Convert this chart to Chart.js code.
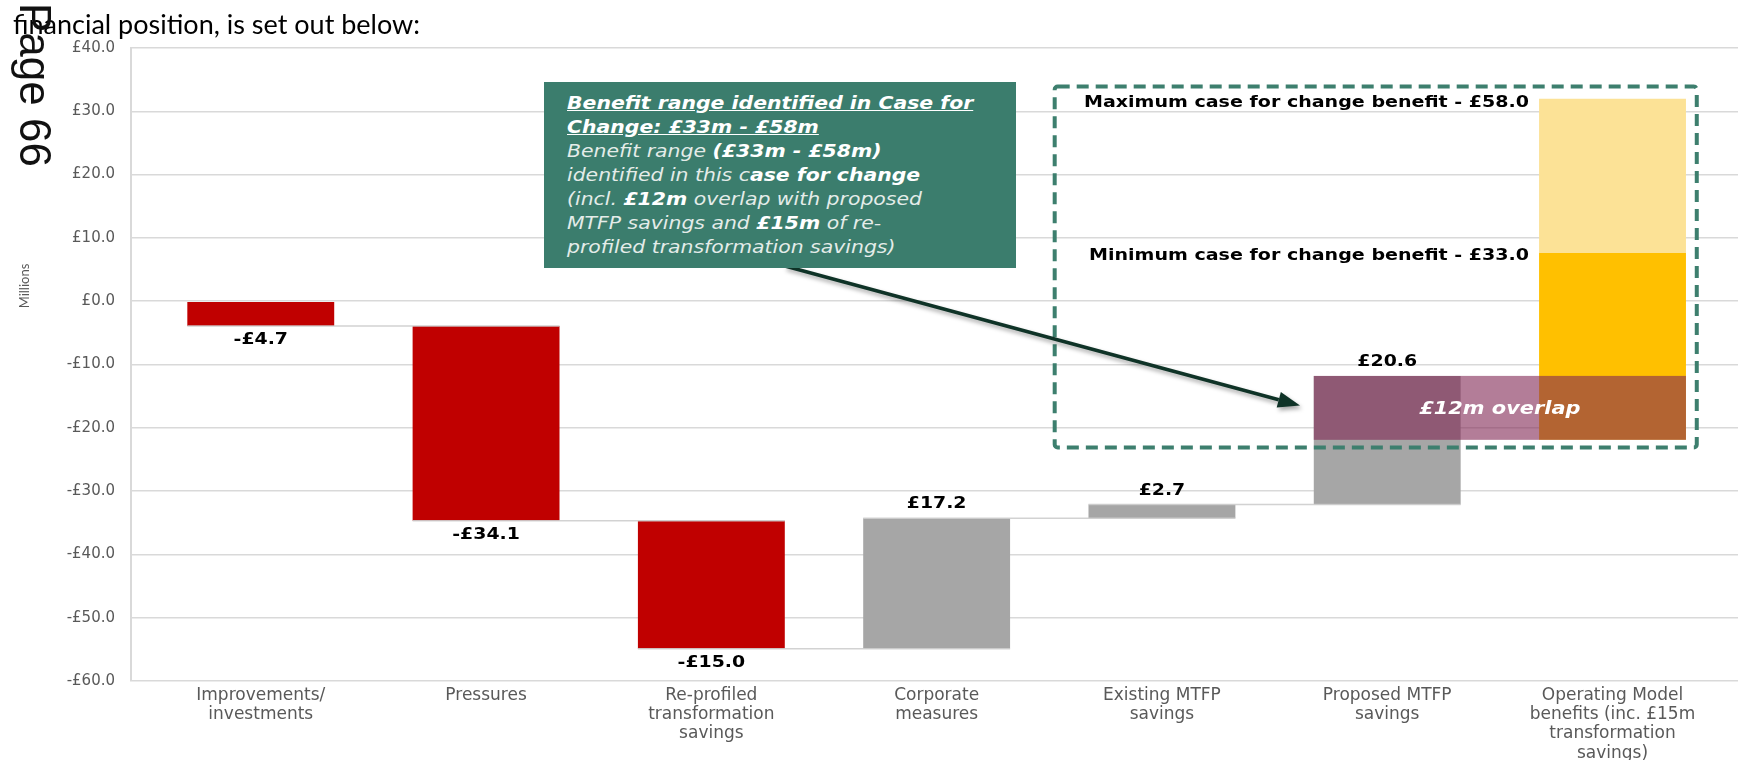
<!DOCTYPE html>
<html lang="en">
<head>
  <meta charset="UTF-8" />
  <title>Case for change - financial position</title>
  <script src="https://cdn.jsdelivr.net/npm/chart.js"></script>
  <style>
    html, body { margin: 0; padding: 0; background: #fff; overflow: hidden; }
    #wrap { position: relative; width: 1738px; height: 760px; overflow: hidden; }
    #chart { position: absolute; left: 0; top: 0; }
    .intro {
      position: absolute; left: 13px; top: 10px;
      font: 27px/27px Lato, sans-serif; color: #000; white-space: nowrap;
    }
    .page-no {
      position: absolute; left: 57px; top: 3px;
      font: 44px/44px 'Liberation Sans', Arial, sans-serif; color: #111;
      transform-origin: 0 0; transform: rotate(90deg); white-space: nowrap;
    }
    .units {
      position: absolute; left: -6px; top: 279px; width: 60px; height: 14px;
      font: 13px/14px Lato, sans-serif; color: #595959; text-align: center;
      transform: rotate(-90deg);
    }
    .callout {
      position: absolute; left: 544px; top: 82px; width: 472px; height: 186px;
      background: #3B7D6D;
    }
    .callout .txt {
      position: absolute; left: 23px; top: 9px;
      font: italic 17px/24px 'DejaVu Sans', sans-serif; color: #E4ECE9;
      white-space: nowrap; transform: scaleX(1.2); transform-origin: 0 0;
    }
    .callout b { color: #fff; }
    .callout .hd { font-weight: bold; color: #fff; text-decoration: underline; }
  </style>
</head>
<body>
  <div id="wrap">
    <canvas id="chart" width="1738" height="760"></canvas>
    <div class="intro">financial position, is set out below:</div>
    <div class="page-no">Page 66</div>
    <div class="units">Millions</div>
    <div class="callout">
      <div class="txt">
        <span class="hd">Benefit range identified in Case for</span><br>
        <span class="hd">Change: £33m - £58m</span><br>
        Benefit range <b>(£33m - £58m)</b><br>
        identified in this c<b>ase for change</b><br>
        (incl. <b>£12m</b> overlap with proposed<br>
        MTFP savings and <b>£15m</b> of re-<br>
        profiled transformation savings)
      </div>
    </div>
  </div>

  <script>
    // categories (multi-line axis labels)
    const categories = [
      ['Improvements/', 'investments'],
      ['Pressures'],
      ['Re-profiled', 'transformation', 'savings'],
      ['Corporate', 'measures'],
      ['Existing MTFP', 'savings'],
      ['Proposed MTFP', 'savings'],
      ['Operating Model', 'benefits (inc. £15m', 'transformation', 'savings)']
    ];

    // waterfall steps, £m (start and end of each floating bar, as drawn)
    const stepStart = [0, -3.9, -34.7, -54.9, -34.3, -32.1];
    const stepEnd = [-3.9, -34.7, -54.9, -34.3, -32.1, -11.8];
    const stepLabels = ['-£4.7', '-£34.1', '-£15.0', '£17.2', '£2.7', '£20.6'];

    // operating model benefits (last category)
    const minBenefit = [-21.9, 7.6];
    const maxBenefit = [7.6, 32.0];
    const overlapRange = [-21.9, -11.8];
    const benefitLabels = ['Minimum case for change benefit - £33.0', 'Maximum case for change benefit - £58.0'];
    const overlapLabel = '£12m overlap';

    const yTickValues = [40, 30, 20, 10, 0, -10, -20, -30, -40, -50, -60];

    const RED = '#C00000';
    const GREY = '#A6A6A6';

    function stretchedText(ctx, text, x, y, align, font, color, sx) {
      ctx.save();
      ctx.translate(x, y);
      ctx.scale(sx, 1);
      ctx.font = font;
      ctx.fillStyle = color;
      ctx.textAlign = align;
      ctx.textBaseline = 'middle';
      ctx.fillText(text, 0, 0);
      ctx.restore();
    }

    const annotations = {
      id: 'annotations',
      afterDatasetsDraw(chart) {
        const { ctx, scales: { x, y } } = chart;
        const steps = chart.getDatasetMeta(0).data;
        const minBar = chart.getDatasetMeta(1).data[0];
        const maxBar = chart.getDatasetMeta(2).data[0];
        const left = el => el.x - el.width / 2;
        const right = el => el.x + el.width / 2;

        ctx.save();

        // connector lines between steps
        ctx.strokeStyle = 'rgba(205,205,205,0.9)';
        ctx.lineWidth = 1.5;
        for (let i = 0; i < steps.length - 1; i++) {
          const yy = y.getPixelForValue(stepEnd[i]);
          ctx.beginPath();
          ctx.moveTo(left(steps[i]), yy);
          ctx.lineTo(right(steps[i + 1]), yy);
          ctx.stroke();
        }

        // overlap band across proposed MTFP and operating model
        const last = steps[steps.length - 1];
        const bandTop = y.getPixelForValue(overlapRange[1]);
        const bandBot = y.getPixelForValue(overlapRange[0]);
        ctx.fillStyle = 'rgba(128,38,84,0.6)';
        ctx.fillRect(left(last), bandTop, right(minBar) - left(last), bandBot - bandTop);
        stretchedText(ctx, overlapLabel, (left(last) + right(minBar)) / 2, (bandTop + bandBot) / 2 + 1,
          'center', 'italic bold 18px "DejaVu Sans"', '#fff', 1.16);

        // value labels
        steps.forEach((el, i) => {
          const top = Math.min(el.y, el.base), bot = Math.max(el.y, el.base);
          const yy = stepEnd[i] < stepStart[i] ? bot + 14 : top - 14;
          stretchedText(ctx, stepLabels[i], el.x, yy, 'center', 'bold 16px "DejaVu Sans"', '#000', 1.18);
        });

        // minimum / maximum case labels
        stretchedText(ctx, benefitLabels[0], left(minBar) - 10, y.getPixelForValue(minBenefit[1]) + 3,
          'right', 'bold 15px "DejaVu Sans"', '#000', 1.27);
        stretchedText(ctx, benefitLabels[1], left(maxBar) - 10, y.getPixelForValue(maxBenefit[1]) + 4,
          'right', 'bold 15px "DejaVu Sans"', '#000', 1.27);

        // dashed frame round the benefit range
        ctx.setLineDash([12, 7]);
        ctx.lineWidth = 4;
        ctx.strokeStyle = '#3D7F6E';
        const fx0 = x.getPixelForValue(3.524), fx1 = x.getPixelForValue(6.374);
        const fy0 = y.getPixelForValue(33.9), fy1 = y.getPixelForValue(-23.1);
        ctx.beginPath();
        ctx.roundRect(fx0, fy0, fx1 - fx0, fy1 - fy0, 3);
        ctx.stroke();
        ctx.setLineDash([]);

        // arrow from the callout box to the overlap
        const ax0 = 785, ay0 = 266, ax1 = 1300, ay1 = 405.5;
        const ang = Math.atan2(ay1 - ay0, ax1 - ax0);
        const head = 22, half = 8;
        const bx = ax1 - head * Math.cos(ang), by = ay1 - head * Math.sin(ang);
        ctx.shadowColor = 'rgba(0,0,0,0.35)';
        ctx.shadowBlur = 4;
        ctx.shadowOffsetX = 2;
        ctx.shadowOffsetY = 3;
        ctx.strokeStyle = '#0F3327';
        ctx.fillStyle = '#0F3327';
        ctx.lineWidth = 3.5;
        ctx.beginPath();
        ctx.moveTo(ax0, ay0);
        ctx.lineTo(bx, by);
        ctx.stroke();
        ctx.beginPath();
        ctx.moveTo(ax1, ay1);
        ctx.lineTo(bx + half * Math.sin(ang), by - half * Math.cos(ang));
        ctx.lineTo(bx - half * Math.sin(ang), by + half * Math.cos(ang));
        ctx.closePath();
        ctx.fill();

        ctx.restore();
      }
    };

    new Chart(document.getElementById('chart'), {
      type: 'bar',
      data: {
        datasets: [
          {
            label: 'Movement',
            data: stepStart.map((s, i) => ({ x: i, y: [s, stepEnd[i]] })),
            backgroundColor: stepStart.map((s, i) => (stepEnd[i] < s ? RED : GREY)),
            grouped: false
          },
          {
            label: 'Minimum case',
            data: [{ x: 6, y: minBenefit }],
            backgroundColor: '#FFC000',
            grouped: false
          },
          {
            label: 'Maximum case',
            data: [{ x: 6, y: maxBenefit }],
            backgroundColor: '#FCE296',
            grouped: false
          }
        ]
      },
      options: {
        responsive: false,
        animation: false,
        devicePixelRatio: 1,
        layout: { padding: { top: 48, right: 0, bottom: 0, left: 0 } },
        datasets: { bar: { barPercentage: 0.652, categoryPercentage: 1 } },
        plugins: { legend: { display: false }, tooltip: { enabled: false } },
        scales: {
          x: {
            type: 'linear',
            offset: false,
            min: -0.576,
            max: 6.557,
            grid: { display: false, drawTicks: false },
            border: { display: false },
            afterBuildTicks: s => { s.ticks = categories.map((c, i) => ({ value: i })); },
            afterFit: s => { s.height = 79; },
            ticks: {
              autoSkip: false,
              maxRotation: 0,
              padding: 5,
              color: '#595959',
              font: { family: 'DejaVu Sans', size: 17, lineHeight: 1.13 },
              callback: v => categories[v]
            }
          },
          y: {
            min: -60,
            max: 40,
            afterBuildTicks: s => { s.ticks = yTickValues.map(v => ({ value: v })); },
            afterFit: s => { s.width = 131; },
            grid: { color: '#D9D9D9', lineWidth: 1.5, drawTicks: false },
            border: { color: '#D9D9D9', width: 2 },
            ticks: {
              padding: 16,
              color: '#595959',
              font: { family: 'DejaVu Sans', size: 15 },
              callback: v => (v < 0 ? '-£' : '£') + Math.abs(v).toFixed(1)
            }
          }
        }
      },
      plugins: [annotations]
    });
  </script>
</body>
</html>
